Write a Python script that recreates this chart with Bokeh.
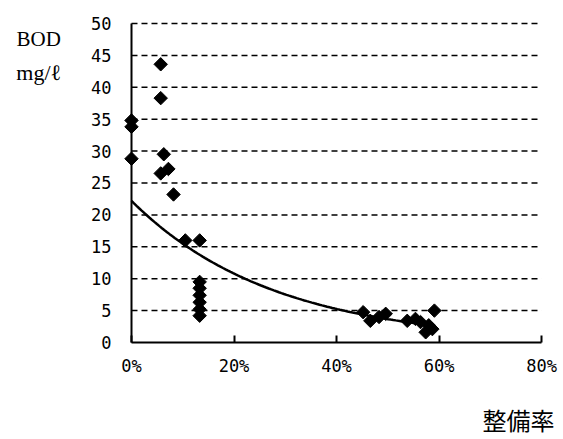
import numpy as np
from bokeh.plotting import figure
from bokeh.models import Range1d, FixedTicker, NumeralTickFormatter, Label
from bokeh.embed import file_html
from bokeh.resources import INLINE

# Sewer coverage ratio (fraction) vs BOD (mg/l)
coverage = [0.0, 0.0, 0.0,
            0.057, 0.057, 0.057, 0.063, 0.072, 0.082,
            0.105, 0.133,
            0.133, 0.133, 0.133, 0.133, 0.133, 0.133,
            0.452, 0.466, 0.483, 0.496, 0.538, 0.554,
            0.564, 0.574, 0.587, 0.591, 0.580]
bod = [34.8, 33.8, 28.8,
       43.6, 38.3, 26.5, 29.5, 27.2, 23.2,
       16.0, 16.0,
       9.5, 8.5, 7.4, 6.3, 5.2, 4.2,
       4.75, 3.4, 4.0, 4.5, 3.4, 3.7,
       3.2, 1.6, 2.1, 5.0, 2.7]

# exponential trendline y = a * exp(-b x)
trend_a = 22.2
trend_b = 3.6
trend_x_end = 0.59

x_ticks = [0.0, 0.2, 0.4, 0.6, 0.8]
y_ticks = [0, 5, 10, 15, 20, 25, 30, 35, 40, 45, 50]

# the frame covers the whole canvas; axes sit at x=0 / y=0 inside it
p = figure(width=563, height=439, output_backend="svg", toolbar_location=None,
           x_range=Range1d(-0.2556, 0.8429), y_range=Range1d(-15.2, 53.6),
           min_border=0)
p.outline_line_color = None
p.background_fill_color = "white"
p.border_fill_color = "white"
p.xgrid.visible = False
p.ygrid.visible = False

tick_font = "DejaVu Sans Mono"

xa = p.xaxis[0]
xa.fixed_location = 0
xa.ticker = FixedTicker(ticks=x_ticks)
xa.formatter = NumeralTickFormatter(format="0%")
xa.bounds = (0, 0.8)
xa.axis_line_color = "black"
xa.axis_line_width = 2
xa.major_tick_in = 7
xa.major_tick_out = 0
xa.major_tick_line_width = 2
xa.major_tick_line_color = "black"
xa.minor_tick_line_color = None
xa.major_label_standoff = 13
xa.major_label_text_font = tick_font
xa.major_label_text_font_size = "17px"
xa.major_label_text_color = "black"

ya = p.yaxis[0]
ya.fixed_location = 0
ya.ticker = FixedTicker(ticks=y_ticks)
ya.bounds = (0, 50)
ya.axis_line_color = "black"
ya.axis_line_width = 2
ya.major_tick_in = 0
ya.major_tick_out = 0
ya.minor_tick_line_color = None
ya.major_label_standoff = 20
ya.major_label_text_font = tick_font
ya.major_label_text_font_size = "17px"
ya.major_label_text_color = "black"

# dashed horizontal gridlines from the y axis to 80%
grid_y = y_ticks[1:]
p.segment(x0=[x_ticks[0]] * len(grid_y), y0=grid_y,
          x1=[x_ticks[-1]] * len(grid_y), y1=grid_y,
          line_color="black", line_width=1.5, line_dash="6 4")

# trendline
tx = np.linspace(0, trend_x_end, 120)
p.line(tx, trend_a * np.exp(-trend_b * tx), line_color="black", line_width=2.5)

# observations as diamonds
p.scatter(coverage, bod, marker="square", size=9.5, angle=np.pi / 4,
          fill_color="black", line_color="black")

p.add_layout(Label(x=-0.181, y=47.5, text="BOD", text_align="center",
                   text_baseline="middle", text_font="Liberation Serif",
                   text_font_size="21px", text_color="black"))
p.add_layout(Label(x=-0.181, y=42.3, text="mg/ℓ", text_align="center",
                   text_baseline="middle", text_font="Liberation Serif",
                   text_font_size="22px", text_color="black"))
p.add_layout(Label(x=0.755, y=-12.1, text="整備率", text_align="center",
                   text_baseline="middle", text_font="Noto Sans CJK JP",
                   text_font_size="24px", text_color="black"))

open("out.html", "w").write(file_html(p, INLINE))
